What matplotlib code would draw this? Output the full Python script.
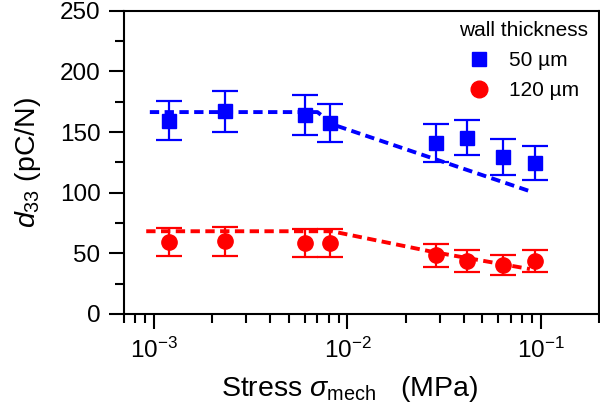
import matplotlib
matplotlib.use("Agg")
import matplotlib.pyplot as plt
from matplotlib.lines import Line2D
from matplotlib.ticker import MultipleLocator, LogLocator, NullFormatter

plt.rcParams['font.family'] = ['Liberation Sans', 'DejaVu Sans']
plt.rcParams['mathtext.fontset'] = 'custom'
plt.rcParams['mathtext.rm'] = 'Liberation Sans'
plt.rcParams['mathtext.it'] = 'Liberation Sans:italic'
plt.rcParams['axes.unicode_minus'] = False

# measured data
stress = [1.19e-3, 2.32e-3, 6.0e-3, 8.17e-3, 2.86e-2, 4.15e-2, 6.41e-2, 9.38e-2]
d33_50 = [159.5, 167.0, 164.0, 157.5, 141.0, 145.5, 129.5, 124.5]
err_50 = [16.0, 17.0, 16.5, 15.5, 16.0, 14.5, 15.0, 14.0]
d33_120 = [59.0, 60.0, 58.5, 58.5, 48.5, 43.5, 40.5, 43.5]
err_120 = [11.5, 12.0, 11.5, 11.5, 9.5, 9.0, 8.0, 9.0]

# model curves (dashed)
fit_50_x = [9.5e-4, 7.0e-3, 8.5e-3, 9.0e-2]
fit_50_y = [166.5, 166.5, 156.0, 100.7]
fit_120_x = [9.1e-4, 8.3e-3, 2.8e-2, 8.8e-2]
fit_120_y = [68.2, 68.2, 51.0, 37.0]

blue = '#0000ff'
red = '#ff0000'

fig = plt.figure(figsize=(6, 4.18), dpi=100)
ax = fig.add_axes([0.207, 0.249, 0.791, 0.725])

ax.plot(fit_50_x, fit_50_y, color=blue, lw=2.8, dashes=(2.4, 1.4))
ax.plot(fit_120_x, fit_120_y, color=red, lw=2.8, dashes=(2.4, 1.4))

ax.errorbar(stress, d33_50, yerr=err_50, fmt='s', color=blue, ms=9.5,
            elinewidth=1.6, capsize=9.2, capthick=1.6)
ax.errorbar(stress, d33_120, yerr=err_120, fmt='o', color=red, ms=11,
            elinewidth=1.6, capsize=9.2, capthick=1.6)

ax.set_xscale('log')
ax.set_xlim(7e-4, 0.2)
ax.set_ylim(0, 250)
ax.yaxis.set_major_locator(MultipleLocator(50))
ax.yaxis.set_minor_locator(MultipleLocator(25))
ax.xaxis.set_major_locator(LogLocator(base=10))
ax.xaxis.set_minor_locator(LogLocator(base=10, subs=range(2, 10)))
ax.xaxis.set_minor_formatter(NullFormatter())

for s in ax.spines.values():
    s.set_linewidth(1.5)
ax.tick_params(which='major', direction='out', length=11, width=1.5,
               labelsize=17.5, pad=6)
ax.tick_params(which='minor', direction='out', length=6.5, width=1.5)

ax.set_xlabel(r'Stress $\sigma_{\rm mech}$   (MPa)', fontsize=20.5, labelpad=8)
ax.xaxis.label.set_x(0.474)
ax.set_ylabel(r'$d_{33}$ (pC/N)', fontsize=20.5, labelpad=12)

handles = [
    Line2D([], [], marker='s', ls='none', color=blue, ms=10),
    Line2D([], [], marker='o', ls='none', color=red, ms=12),
]
ax.legend(handles, ['50 µm', '120 µm'], title='wall thickness',
          loc='upper right', frameon=False, fontsize=15,
          title_fontsize=15, handlelength=1.0, handletextpad=0.94,
          labelspacing=0.52, borderaxespad=0.1, bbox_to_anchor=(1.0, 1.0))

fig.savefig('out.png', dpi=100)
